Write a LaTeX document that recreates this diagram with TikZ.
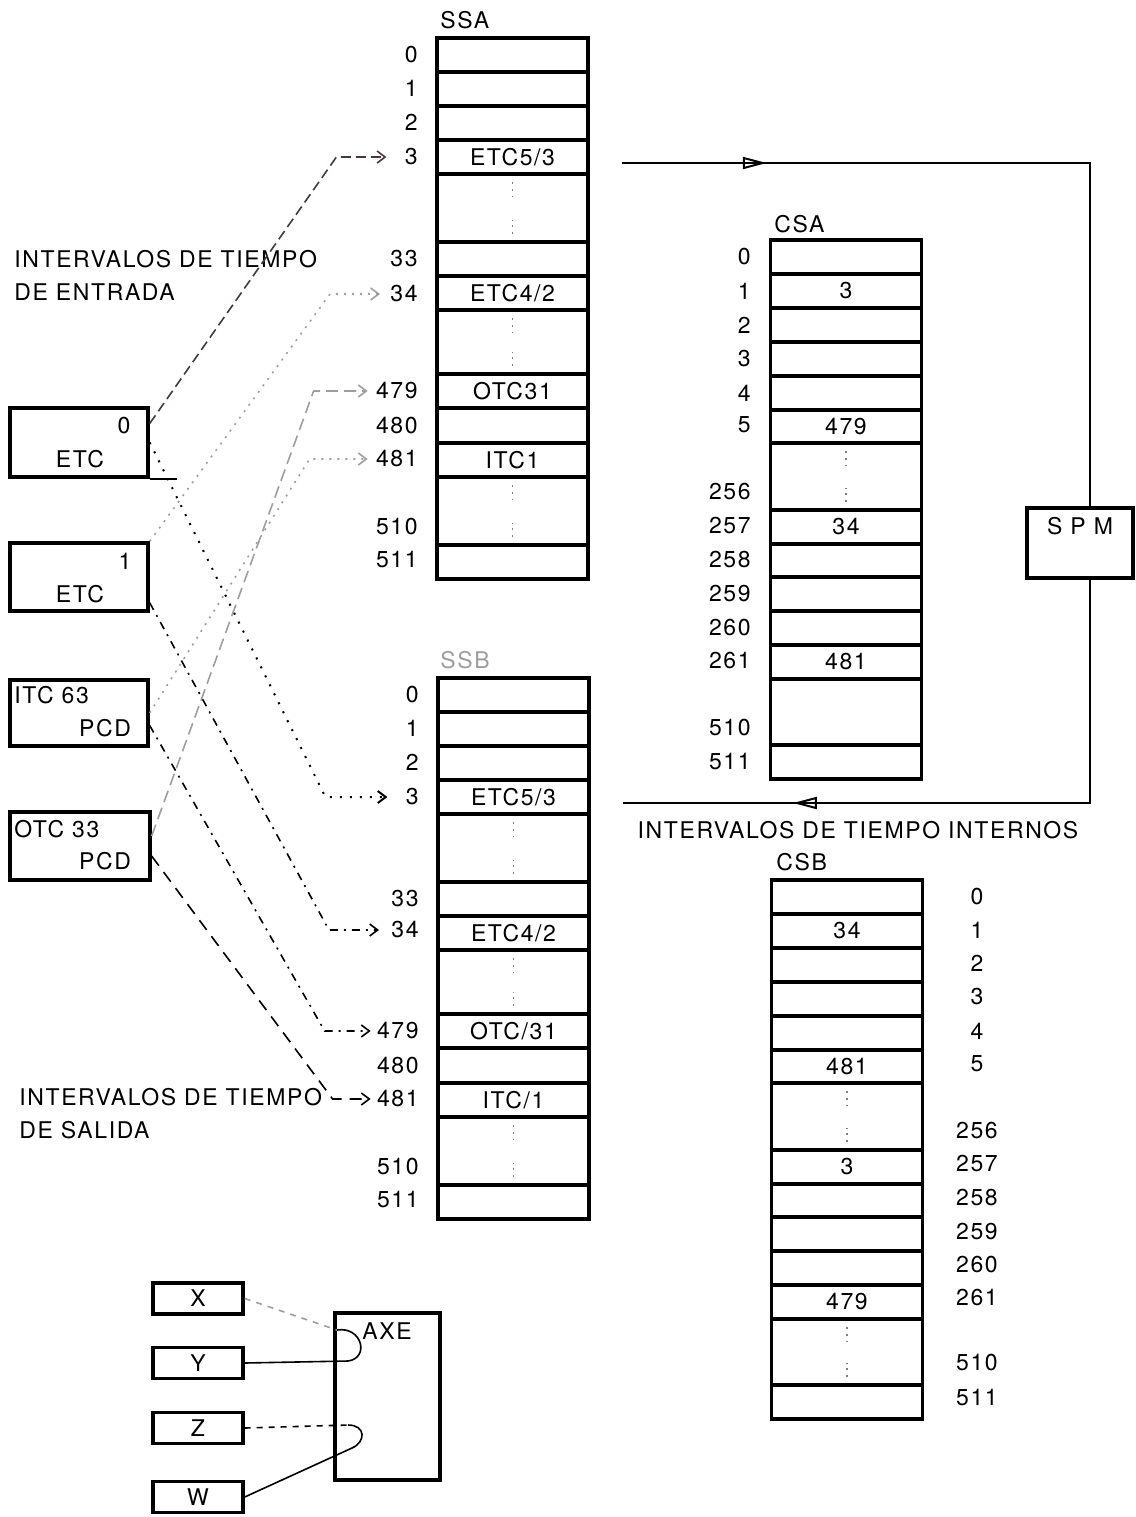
\documentclass[tikz,border=0pt]{standalone}
\usepackage{fontspec}
\setmainfont{TeX Gyre Heros}[LetterSpace=7]
\usetikzlibrary{arrows.meta, decorations.markings}

\begin{document}
\begin{tikzpicture}[x=0.5pt, y=-0.5pt,
  every node/.style={font=\fontsize{11.5}{16.5}\selectfont, inner sep=1pt},
  caja/.style={draw, line width=1.7pt},
  celda/.style={draw, line width=1.6pt, minimum width=75.5pt, inner sep=0pt},
  puntos/.style={gray, line width=0.9pt, dash pattern=on 0.8pt off 2.5pt},
  entra/.style={line width=0.8pt, -{Straight Barb[length=4pt, width=6pt]}},
  flechaMedia/.style={postaction={decorate, decoration={markings,
      mark=at position #1 with {\arrow[line width=1pt]{Triangle[open, length=12pt, width=6pt]}}}}}]
  \definecolor{grisTenue}{gray}{0.62}
  \definecolor{oscuro}{RGB}{70,55,65}

  \useasboundingbox (0,0) rectangle (1136,1517);

  % SSA
  \node[anchor=west] (tSSA) at (438,20) {SSA};
  \foreach \n/\ya/\yb/\txt in {0/38/72/{},1/72/106/{},2/106/140/{},3/140/174/{ETC5/3},
      a/174/242/{},33/242/276/{},34/276/310/{ETC4/2},b/310/374/{},479/374/408/{OTC31},
      480/408/443/{},481/443/477/{ITC1},c/477/545/{},511/545/579/{}}
    \node[celda, minimum height={(\yb-\ya)*0.5pt}] (ssa\n) at (512.5,{(\ya+\yb)/2}) {\txt};
  \foreach \g in {a,b,c}
    \draw[puntos] ([yshift=-5pt]ssa\g.north) -- ++(0,14) ([yshift=5pt]ssa\g.south) -- ++(0,-14);
  \foreach \n/\y in {0/55,1/88,2/122,3/157,33/259,34/294,479/391,480/426,481/459,510/527,511/560}
    \node[anchor=east] (lssa\n) at (420,\y) {\n};

  % SSB
  \begin{scope}[yshift=-320pt]
    \node[anchor=west, text=grisTenue] (tSSB) at (438,20) {SSB};
    \foreach \n/\ya/\yb/\txt in {0/38/72/{},1/72/106/{},2/106/140/{},3/140/174/{ETC5/3},
        a/174/242/{},33/242/276/{},34/276/310/{ETC4/2},b/310/374/{},479/374/408/{OTC/31},
        480/408/443/{},481/443/477/{ITC/1},c/477/545/{},511/545/579/{}}
      \node[celda, minimum height={(\yb-\ya)*0.5pt}] (ssb\n) at (513.5,{(\ya+\yb)/2}) {\txt};
    \foreach \g in {a,b,c}
      \draw[puntos] ([yshift=-5pt]ssb\g.north) -- ++(0,14) ([yshift=5pt]ssb\g.south) -- ++(0,-14);
    \foreach \n/\y in {0/55,1/88,2/122,3/157,33/259,34/290,479/391,480/426,481/459,510/527,511/560}
      \node[anchor=east] (lssb\n) at (421,\y) {\n};
  \end{scope}

  % CSA
  \node[anchor=west] (tCSA) at (772,224) {CSA};
  \foreach \n/\ya/\yb/\txt in {0/240/274/{},1/274/308/3,2/308/342/{},3/342/376/{},4/376/410/{},
      5/410/443/479,a/443/510/{},257/510/544/34,258/544/577/{},259/577/611/{},260/611/645/{},
      261/645/679/481,b/679/745/{},511/745/779/{}}
    \node[celda, minimum height={(\yb-\ya)*0.5pt}] (csa\n) at (846,{(\ya+\yb)/2}) {\txt};
  \draw[puntos] ([yshift=-5pt]csaa.north) -- ++(0,14) ([yshift=5pt]csaa.south) -- ++(0,-14);
  \foreach \n/\y in {0/257,1/291,2/325,3/359,4/393,5/425,256/492,257/526,258/560,259/594,
      260/628,261/661,510/728,511/762}
    \node[anchor=east] (lcsa\n) at (753,\y) {\n};

  % CSB
  \begin{scope}[yshift=-320pt]
    \node[anchor=west] (tCSB) at (774,222) {CSB};
    \foreach \n/\ya/\yb/\txt in {0/240/274/{},1/274/308/34,2/308/342/{},3/342/376/{},4/376/410/{},
        5/410/443/481,a/443/510/{},257/510/544/3,258/544/577/{},259/577/611/{},260/611/645/{},
        261/645/679/479,b/679/745/{},511/745/779/{}}
      \node[celda, minimum height={(\yb-\ya)*0.5pt}] (csb\n) at (847,{(\ya+\yb)/2}) {\txt};
    \foreach \g in {a,b}
      \draw[puntos] ([yshift=-5pt]csb\g.north) -- ++(0,14) ([yshift=5pt]csb\g.south) -- ++(0,-14);
    \foreach \n/\y in {0/257,1/290,2/323,3/357,4/391,5/424,256/491,257/524,258/558,259/592,
        260/625,261/658,510/723,511/757}
      \node (lcsb\n) at (977,\y) {\n};
  \end{scope}

  % SPM
  \node[caja, minimum width=53pt, minimum height=35pt] (spm) at (1080,543) {};
  \node (tSPM) at (1080,526) {S P M};
  \draw[line width=0.8pt, flechaMedia=0.21, shorten <=16pt] ([yshift=-3pt]ssa3.east) -| ([xshift=5pt]spm.north);
  \draw[line width=0.8pt, flechaMedia=0.72, shorten >=16pt] ([xshift=5pt]spm.south) |- ([yshift=-3pt]ssb3.east);
  \node (internos) at (858,830) {INTERVALOS DE TIEMPO INTERNOS};

  % cajas de la izquierda
  \node[anchor=west, align=left] (entrada) at (12,275.5) {INTERVALOS DE TIEMPO\\DE ENTRADA};
  \node[anchor=west, align=left] (salida) at (17,1114) {INTERVALOS DE TIEMPO\\DE SALIDA};

  \node[caja, minimum width=69pt, minimum height=34.5pt] (etc0) at (79,442.5) {};
  \node (etc0n) at (124,426) {0};
  \node (etc0t) at (80,459) {ETC};
  \draw[line width=0.8pt] (etc0.south east) -- ++(27,0);
  \node[caja, minimum width=69pt, minimum height=34pt] (etc1) at (79,577) {};
  \node (etc1n) at (125,561) {1};
  \node (etc1t) at (80,594) {ETC};
  \node[caja, minimum width=69pt, minimum height=33pt] (itc) at (79,713) {};
  \node[anchor=west] (itcn) at (12,695) {ITC 63};
  \node (itct) at (105,728) {PCD};
  \node[caja, minimum width=70pt, minimum height=34pt] (otc) at (80,846) {};
  \node[anchor=west] (otcn) at (12,829) {OTC 33};
  \node (otct) at (105,861) {PCD};

  \draw[entra, oscuro, dash pattern=on 5pt off 2.5pt] (etc0.15) -- ([xshift=-33pt]lssa3.west) -- ([xshift=-8pt]lssa3.west);
  \draw[entra, line width=1pt, dash pattern=on 1pt off 4pt] (etc0.east) -- ([xshift=-39pt]lssb3.west) -- ([xshift=-8pt]lssb3.west);
  \draw[entra, grisTenue, dash pattern=on 1pt off 3pt] (etc1.north east) -- ([xshift=-29pt]lssa34.west) -- ([xshift=-4pt]lssa34.west);
  \draw[entra, dash pattern=on 4pt off 3pt on 1pt off 3pt] (etc1.-20) -- ([xshift=-30pt]lssb34.west) -- ([xshift=-5pt]lssb34.west);
  \draw[entra, grisTenue, dash pattern=on 1pt off 3pt] (itc.east) -- ([xshift=-32pt]lssa481.west) -- ([xshift=-3pt]lssa481.west);
  \draw[entra, dash pattern=on 4pt off 3pt on 1pt off 3pt] (itc.-10) -- ([xshift=-25pt]lssb479.west) -- ([xshift=-2pt]lssb479.west);
  \draw[entra, grisTenue, dash pattern=on 6pt off 3pt] (otc.8) -- ([xshift=-30pt]lssa479.west) -- ([xshift=-3pt]lssa479.west);
  \draw[entra, dash pattern=on 6pt off 4pt] (otc.-8) -- ([xshift=-21pt]lssb481.west) -- ([xshift=-2pt]lssb481.west);

  % AXE
  \node[caja, minimum width=52.5pt, minimum height=83.5pt] (axe) at (387.5,1396.5) {};
  \node (tAXE) at (387,1331) {AXE};
  \node[caja, minimum width=45pt, minimum height=15.5pt] (cx) at (198,1298.5) {X};
  \node[caja, minimum width=45pt, minimum height=15.5pt] (cy) at (198,1363) {Y};
  \node[caja, minimum width=45pt, minimum height=15.5pt] (cz) at (198,1428) {Z};
  \node[caja, minimum width=45pt, minimum height=15.5pt] (cw) at (198,1497) {W};
  \coordinate (lazoXY) at (337,1330);
  \coordinate (lazoZW) at (348,1425);
  \draw[grisTenue, dashed, line width=0.8pt] (cx.east) -- (lazoXY);
  \draw[line width=0.8pt] (lazoXY) .. controls (362,1326) and (370,1358) .. (348,1361) -- (cy.east);
  \draw[dashed, line width=0.8pt] (cz.east) -- (lazoZW);
  \draw[line width=0.8pt] (lazoZW) .. controls (366,1425) and (366,1442) .. (352,1448) -- (cw.east);
\end{tikzpicture}
\end{document}
